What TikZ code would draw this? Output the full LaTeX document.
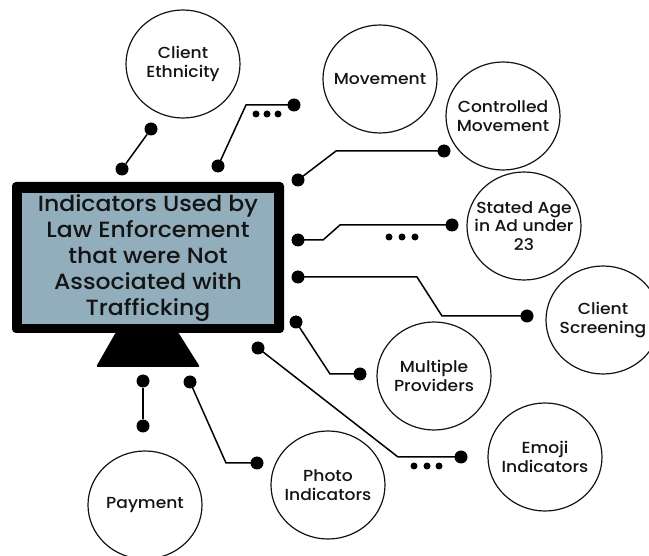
\documentclass[tikz,border=0pt]{standalone}
\usepackage{fontspec}
\setmainfont{Poppins}[UprightFont={* Medium}, FakeStretch=1.07]
\usetikzlibrary{shapes.geometric}
\definecolor{screenblue}{RGB}{146,173,187}
\definecolor{ink}{RGB}{20,20,20}
\begin{document}
\begin{tikzpicture}[x=1pt,y=-1pt,
  topic/.style={draw=ink, ellipse, line width=1.2pt, minimum width=114pt, minimum height=108pt,
    inner sep=-30pt, align=center, text=ink, font=\fontsize{16}{18.5}\selectfont},
  dot/.style={circle, fill=black, inner sep=0pt, minimum size=13pt},
  tinydot/.style={circle, fill=black, inner sep=0pt, minimum size=7pt},
  wire/.style={line width=1.5pt, black}]
\useasboundingbox (0,0) rectangle (649,556);

% monitor
\node[fill=black, rounded corners=4pt, minimum width=272pt, minimum height=151pt, inner sep=0pt] (frame) at (148,257.5) {};
\node[fill=screenblue, minimum width=252pt, minimum height=131pt, inner sep=0pt, align=center,
  text=ink, font=\fontsize{22}{26}\selectfont] (screen) at (148,258.5)
  {Indicators Used by\\Law Enforcement\\that were Not\\Associated with\\Trafficking};
\fill[black, rounded corners=2pt] (116,332) -- (178,332) -- (200,367) -- (96,367) -- cycle;

% topics
\node[topic] (ce) at (183,64) {Client\\Ethnicity};
\node[topic] (mv) at (380,79) {Movement};
\node[topic] (cm) at (503,116) {Controlled\\Movement};
\node[topic] (sa) at (524,226) {Stated Age\\in Ad under\\23};
\node[topic] (cs) at (603,320) {Client\\Screening};
\node[topic] (mp) at (434,376) {Multiple\\Providers};
\node[topic] (em) at (545,457) {Emoji\\Indicators};
\node[topic] (ph) at (328,485) {Photo\\Indicators};
\node[topic] (pay) at (145,505) {Payment};

% dots and connectors
\node[dot] (e1) at (122,169) {};
\node[dot] (e2) at (151,129) {};
\draw[wire] (e1) -- (e2);

\node[dot] (m1) at (218,166) {};
\coordinate (mc) at (246,105);
\node[dot] (m2) at (294,105) {};
\draw[wire] (m1.center) -- (mc) -- (m2.center);
\node[tinydot] (md1) at (256,114) {};
\node[tinydot] (md2) at (267,114) {};
\node[tinydot] (md3) at (278,114) {};

\node[dot] (c1) at (298,180) {};
\coordinate (cc) at (336,151);
\node[dot] (c2) at (444,151) {};
\draw[wire] (c1.center) -- (cc) -- (c2.center);

\node[dot] (s1) at (298,240) {};
\coordinate (sc1) at (323,240);
\coordinate (sc2) at (340,225);
\node[dot] (s2) at (452,225) {};
\draw[wire] (s1.center) -- (sc1) -- (sc2) -- (s2.center);
\node[tinydot] (sd1) at (389,237) {};
\node[tinydot] (sd2) at (402,237) {};
\node[tinydot] (sd3) at (415,237) {};

\node[dot] (k1) at (298,277) {};
\coordinate (kc1) at (417,277);
\coordinate (kc2) at (442,316);
\node[dot] (k2) at (527,316) {};
\draw[wire] (k1.center) -- (kc1) -- (kc2) -- (k2.center);

\node[dot] (p1) at (296,322) {};
\coordinate (pc) at (330,374);
\node[dot] (p2) at (360,374) {};
\draw[wire] (p1.center) -- (pc) -- (p2.center);

\node[dot] (j1) at (258,348) {};
\coordinate (jc) at (398,457);
\node[dot] (j2) at (461,457) {};
\draw[wire] (j1.center) -- (jc) -- (j2.center);
\node[tinydot] (jd1) at (414,466) {};
\node[tinydot] (jd2) at (427,466) {};
\node[tinydot] (jd3) at (439,466) {};

\node[dot] (h1) at (190,382) {};
\coordinate (hc) at (226,463);
\node[dot] (h2) at (257,463) {};
\draw[wire] (h1.center) -- (hc) -- (h2.center);

\node[dot] (y1) at (143,381) {};
\node[dot] (y2) at (143,426) {};
\draw[wire] (y1) -- (y2);
\end{tikzpicture}
\end{document}
